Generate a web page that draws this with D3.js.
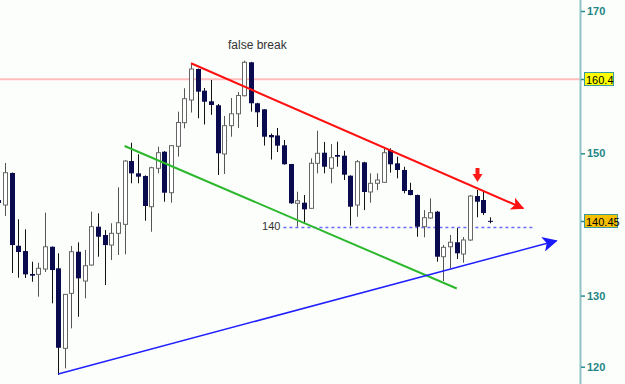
<!DOCTYPE html>
<html>
<head>
<meta charset="utf-8">
<script src="https://cdn.jsdelivr.net/npm/d3@7"></script>
<style>
body { margin: 0; background: #fcfefc; }
svg { display: block; font-family: Arial, "Liberation Sans", sans-serif; }
</style>
</head>
<body>
<script>
// candle data, bar index -1 .. 73 (first one is cut off at the left edge)
const opens = [143.43, 142.73, 147.23, 137.00, 136.26, 133.03, 132.98, 133.73, 136.86, 133.83,
  122.58, 130.31, 136.16, 132.04, 134.29, 139.68, 138.51, 137.10, 138.75, 140.01,
  148.91, 147.18, 146.81, 142.49, 147.89, 150.22, 144.46, 150.98, 154.30, 157.49,
  161.85, 158.80, 157.31, 156.75, 149.90, 153.88, 155.55, 158.09, 162.79, 157.03,
  156.18, 152.57, 152.50, 151.12, 148.49, 142.97, 143.05, 142.26, 148.59, 150.08,
  147.89, 149.76, 149.66, 146.85, 142.73, 148.73, 144.56, 145.78, 145.92, 150.46,
  148.59, 147.65, 144.84, 144.13, 139.68, 140.90, 141.79, 135.46, 136.86, 137.49,
  135.84, 137.81, 143.99, 143.43, 140.50];
const highs = [143.57, 148.63, 147.30, 140.72, 139.31, 134.76, 134.62, 141.65, 136.90, 135.94,
  130.20, 136.96, 137.48, 136.40, 141.79, 141.56, 139.21, 140.16, 145.22, 149.05,
  151.49, 149.86, 146.90, 148.11, 150.92, 150.30, 151.16, 155.85, 159.14, 162.65,
  161.90, 159.18, 160.30, 156.93, 155.24, 157.77, 158.62, 163.02, 162.85, 157.10,
  156.20, 152.78, 153.55, 151.87, 148.50, 144.60, 144.13, 149.29, 153.17, 151.59,
  151.31, 151.63, 150.36, 146.90, 149.05, 148.80, 147.18, 147.18, 150.88, 150.70,
  149.52, 148.11, 145.86, 144.20, 142.02, 143.67, 141.90, 137.10, 138.51, 139.49,
  138.23, 144.13, 144.84, 144.60, 141.00];
const lows = [142.73, 141.18, 133.17, 132.51, 132.47, 131.94, 129.84, 133.31, 128.91, 118.83,
  119.77, 125.39, 127.02, 129.61, 134.20, 135.46, 131.48, 134.99, 135.70, 135.80,
  145.78, 145.78, 140.52, 138.97, 147.18, 143.19, 143.05, 149.52, 153.51, 155.73,
  154.92, 154.05, 155.40, 146.95, 147.09, 152.33, 153.55, 158.00, 155.85, 153.69,
  151.09, 149.12, 150.18, 148.40, 142.90, 139.68, 140.06, 142.20, 147.18, 147.18,
  145.78, 148.11, 146.24, 139.82, 141.08, 142.02, 143.05, 144.84, 145.90, 147.27,
  146.48, 144.37, 144.10, 138.27, 138.19, 140.80, 134.76, 132.04, 133.83, 135.14,
  134.62, 137.67, 141.00, 141.32, 140.16];
const closes = [143.01, 147.27, 137.10, 136.12, 132.98, 132.79, 133.83, 136.86, 133.59, 122.66,
  130.17, 136.16, 132.42, 134.19, 139.68, 138.27, 137.10, 138.75, 140.24, 148.91,
  147.18, 146.71, 142.59, 147.97, 150.08, 144.46, 151.07, 154.33, 157.67, 161.85,
  158.66, 157.25, 156.79, 150.00, 153.88, 155.55, 158.12, 162.79, 157.03, 155.76,
  152.33, 152.25, 151.07, 148.46, 142.97, 143.33, 142.12, 148.59, 150.00, 148.11,
  149.38, 149.52, 146.99, 142.49, 148.82, 144.56, 145.78, 146.24, 150.08, 148.45,
  147.65, 144.70, 144.13, 139.68, 140.94, 141.65, 135.46, 136.78, 137.49, 135.94,
  137.81, 143.99, 143.19, 141.60, 140.45];
const firstIndex = -1;

const axisTicks = [120, 130, 150, 170];
const resistanceLevel = 160.4;
const lastPrice = 140.45;
const supportLevel = 139.7;   // dashed line, labelled "140"
const supportLabel = '140';
const noteText = 'false break';

// trend lines as [bar index, price]
const redTrend = [[28, 162.65], [78, 142.26]];
const greenTrend = [[18, 151.02], [68, 130.99]];
const blueTrend = [[8, 118.97], [83, 137.71]];
const supportSpan = [41.9, 79.8];
const signalBar = 71;

const W = 625, H = 384;
const step = 485 / 73;
const axisX = 580;

const svg = d3.select('body').append('svg')
  .attr('width', W)
  .attr('height', H);

svg.append('rect').attr('width', W).attr('height', H).attr('fill', '#fcfefc');

const x = d3.scaleLinear().domain([0, 73]).range([5, 490]);
const y = d3.scaleLinear().domain([120, 170]).range([366.7, 11]);

const candles = opens.map((o, k) => ({
  i: k + firstIndex, o, h: highs[k], l: lows[k], c: closes[k]
}));

const defs = svg.append('defs');
function marker(id, color, size) {
  defs.append('marker')
    .attr('id', id)
    .attr('viewBox', '0 0 12 12')
    .attr('refX', 11).attr('refY', 6)
    .attr('markerUnits', 'userSpaceOnUse')
    .attr('markerWidth', size).attr('markerHeight', size)
    .attr('orient', 'auto')
    .append('path')
    .attr('d', 'M0,0 L12,6 L0,12 L3,6 Z')
    .attr('fill', color);
}
marker('arrRed', '#ff1010', 13);
marker('arrBlue', '#1a1aff', 15);

// horizontal levels behind the candles
svg.append('line')
  .attr('x1', 0).attr('x2', axisX)
  .attr('y1', y(resistanceLevel)).attr('y2', y(resistanceLevel))
  .attr('stroke', '#ffbcbc').attr('stroke-width', 2);

svg.append('line')
  .attr('x1', x(supportSpan[0])).attr('x2', x(supportSpan[1]))
  .attr('y1', Math.round(y(supportLevel)) + 0.5).attr('y2', Math.round(y(supportLevel)) + 0.5)
  .attr('stroke', '#6a6aff').attr('stroke-width', 1.5)
  .attr('stroke-dasharray', '3,3');

svg.append('text')
  .attr('x', x(supportSpan[0]) - 3)
  .attr('y', y(supportLevel) + 3)
  .attr('text-anchor', 'end')
  .attr('font-size', 11)
  .attr('fill', '#333')
  .text(supportLabel);

// candles
const cg = svg.append('g');
const gs = cg.selectAll('.candle')
  .data(candles)
  .enter()
  .append('g')
  .attr('class', 'candle');

gs.append('line')
  .attr('x1', d => Math.round(x(d.i)) + 0.5)
  .attr('x2', d => Math.round(x(d.i)) + 0.5)
  .attr('y1', d => y(d.h))
  .attr('y2', d => y(d.l))
  .attr('stroke', d => d.c >= d.o ? '#555' : '#111')
  .attr('stroke-width', 1);

gs.append('rect')
  .attr('x', d => d.c >= d.o ? Math.round(x(d.i)) - 1.5 : Math.round(x(d.i)) - 2)
  .attr('y', d => y(Math.max(d.o, d.c)))
  .attr('width', d => d.c >= d.o ? 4 : 5)
  .attr('height', d => Math.max(1, Math.abs(y(d.o) - y(d.c))))
  .attr('fill', d => d.c >= d.o ? '#fff' : '#0a0a4e')
  .attr('stroke', d => d.c >= d.o ? '#666' : 'none')
  .attr('stroke-width', 1);

// trend lines
const line = d3.line().x(d => x(d[0])).y(d => y(d[1]));

svg.append('path')
  .attr('d', line(greenTrend))
  .attr('fill', 'none')
  .attr('stroke', '#2cb82c').attr('stroke-width', 2);

svg.append('path')
  .attr('d', line(blueTrend))
  .attr('fill', 'none')
  .attr('stroke', '#2020ff').attr('stroke-width', 1.5)
  .attr('marker-end', 'url(#arrBlue)');

svg.append('path')
  .attr('d', line(redTrend))
  .attr('fill', 'none')
  .attr('stroke', '#ff1010').attr('stroke-width', 2)
  .attr('marker-end', 'url(#arrRed)');

// down arrow above the signal bar
const ax = Math.round(x(signalBar)) + 0.5;
const ay = y(highs[signalBar - firstIndex]) - 22;
svg.append('path')
  .attr('d', `M${ax - 2},${ay} L${ax + 2},${ay} L${ax + 2},${ay + 6} L${ax + 5},${ay + 6} L${ax},${ay + 14} L${ax - 5},${ay + 6} L${ax - 2},${ay + 6} Z`)
  .attr('fill', '#ff1a1a');

// note
svg.append('text')
  .attr('x', 228)
  .attr('y', 49)
  .attr('font-size', 12)
  .attr('fill', '#333')
  .text(noteText);

// price axis
svg.append('line')
  .attr('x1', axisX + 0.5).attr('x2', axisX + 0.5)
  .attr('y1', 0).attr('y2', H)
  .attr('stroke', '#8fc4c4').attr('stroke-width', 2);

const yAxis = svg.append('g')
  .attr('class', 'y axis')
  .attr('transform', `translate(${axisX + 1}, 0)`)
  .call(d3.axisRight(y)
    .tickValues(axisTicks)
    .tickSize(4)
    .tickSizeOuter(0)
    .tickPadding(2)
    .tickFormat(d3.format('d'))
  );
yAxis.select('.domain').remove();
yAxis.selectAll('line').attr('stroke', '#2a8c8c').attr('stroke-width', 1.5);
yAxis.selectAll('text')
  .attr('fill', '#1f8585')
  .attr('font-size', 11)
  .attr('font-weight', 'bold')
  .attr('font-family', 'Arial, "Liberation Sans", sans-serif');

// price boxes on the axis
function priceBox(v, fill, w) {
  const cy = Math.round(y(v));
  svg.append('line')
    .attr('x1', axisX + 1).attr('x2', axisX + 5)
    .attr('y1', cy + 0.5).attr('y2', cy + 0.5)
    .attr('stroke', '#2a8c8c').attr('stroke-width', 1.5);
  svg.append('rect')
    .attr('x', axisX + 4.5).attr('y', cy - 6.5)
    .attr('width', w).attr('height', 13)
    .attr('fill', fill)
    .attr('stroke', '#3a9a9a').attr('stroke-width', 1);
  svg.append('text')
    .attr('x', axisX + 6)
    .attr('y', cy + 4.5)
    .attr('font-size', 11)
    .attr('fill', '#000')
    .text(v);
}
priceBox(resistanceLevel, '#ffff00', 29);
priceBox(lastPrice, '#f6c000', 33);
</script>
</body>
</html>
